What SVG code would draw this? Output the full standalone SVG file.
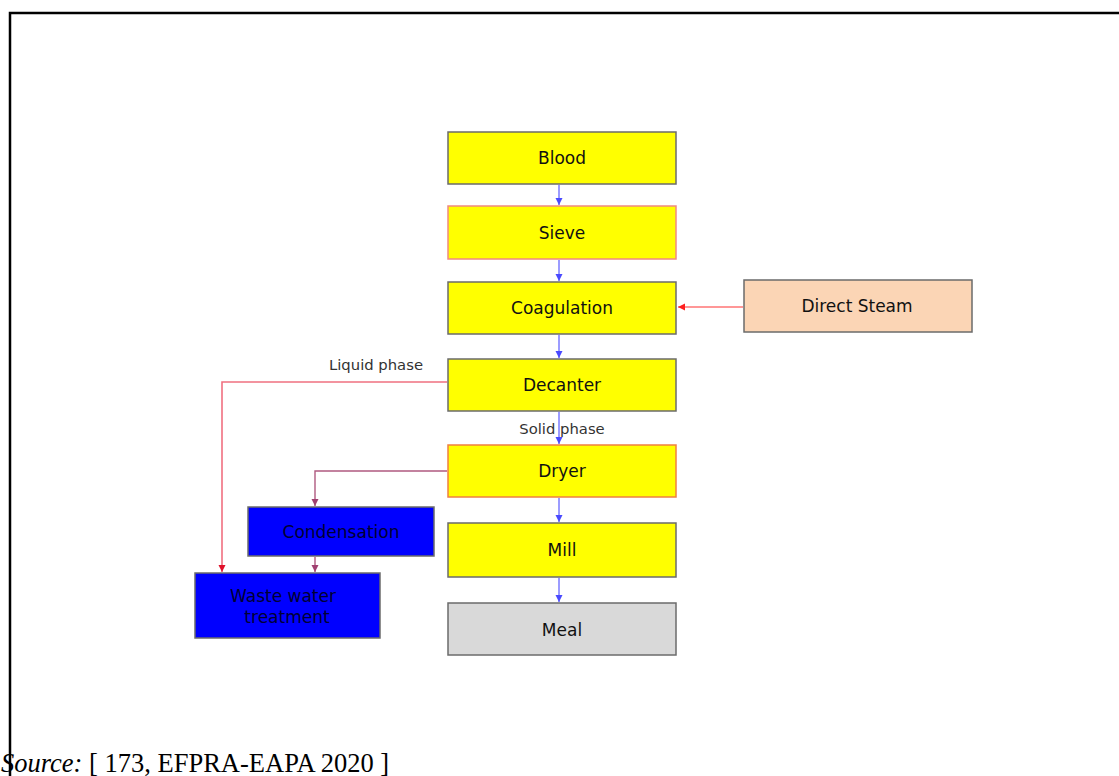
<svg xmlns="http://www.w3.org/2000/svg" width="1119" height="776" viewBox="0 0 1119 776">
<style>
.box{stroke:#6b6b6b;stroke-width:1.5}
.y{fill:#ffff00}
.b{fill:#0000ff}
.t{font-family:"DejaVu Sans",Verdana,sans-serif;font-size:17px;fill:#111;text-anchor:middle}
.tb{fill:#000033}
.lbl{font-family:"DejaVu Sans",Verdana,sans-serif;font-size:14.8px;fill:#333;text-anchor:middle}
.cb{stroke:#5a5aff;stroke-width:1.2;fill:none}
.cr{stroke:#f07080;stroke-width:1.6;fill:none}
.cm{stroke:#b05a80;stroke-width:1.4;fill:none}
.cs{stroke:#ff3030;stroke-width:1.2;fill:none}
</style>
<defs>
<marker id="ab" markerWidth="8" markerHeight="8" refX="7" refY="4" orient="auto" markerUnits="userSpaceOnUse"><path d="M0,0.5 L7,4 L0,7.5 z" fill="#4a4aff"/></marker>
<marker id="ar" markerWidth="8" markerHeight="8" refX="7" refY="4" orient="auto" markerUnits="userSpaceOnUse"><path d="M0,0.5 L7,4 L0,7.5 z" fill="#e0102a"/></marker>
<marker id="am" markerWidth="8" markerHeight="8" refX="7" refY="4" orient="auto" markerUnits="userSpaceOnUse"><path d="M0,0.5 L7,4 L0,7.5 z" fill="#a04070"/></marker>
<marker id="as" markerWidth="8" markerHeight="8" refX="7" refY="4" orient="auto" markerUnits="userSpaceOnUse"><path d="M0,0.5 L7,4 L0,7.5 z" fill="#ff2020"/></marker>
</defs>
<rect width="1119" height="776" fill="#fff"/>
<path d="M10,776 V13 H1119" stroke="#000" stroke-width="2.5" fill="none"/>
<g id="connectors">
<path class="cb" d="M559,185 V205" marker-end="url(#ab)"/>
<path class="cb" d="M559,260 V281" marker-end="url(#ab)"/>
<path class="cb" d="M559,335 V358" marker-end="url(#ab)"/>
<path class="cb" d="M559,412 V444" marker-end="url(#ab)"/>
<path class="cb" d="M559,498 V522" marker-end="url(#ab)"/>
<path class="cb" d="M559,578 V602" marker-end="url(#ab)"/>
<path class="cs" d="M743,307 H678" marker-end="url(#as)"/>
<path class="cr" d="M447,382 H222 V572" marker-end="url(#ar)"/>
<path class="cm" d="M447,471 H315 V506" marker-end="url(#am)"/>
<path class="cm" d="M315,557 V572" marker-end="url(#am)"/>
<text class="lbl" x="376" y="370">Liquid phase</text>
<text class="lbl" x="562" y="434">Solid phase</text>
</g>
<g id="blood"><rect class="box y" x="448" y="132" width="228" height="52"/><text class="t" x="562" y="164">Blood</text></g>
<g id="sieve"><rect class="y" x="448" y="206" width="228" height="53" stroke="#f08a80" stroke-width="1.5"/><text class="t" x="562" y="239">Sieve</text></g>
<g id="coagulation"><rect class="box y" x="448" y="282" width="228" height="52"/><text class="t" x="562" y="314">Coagulation</text></g>
<g id="direct-steam"><rect class="box" x="744" y="280" width="228" height="52" fill="#fbd5b5"/><text class="t" x="857" y="312" fill="#222">Direct Steam</text></g>
<g id="decanter"><rect class="box y" x="448" y="359" width="228" height="52"/><text class="t" x="562" y="391">Decanter</text></g>
<g id="dryer"><rect class="y" x="448" y="445" width="228" height="52" stroke="#f08040" stroke-width="1.5"/><text class="t" x="562" y="477">Dryer</text></g>
<g id="mill"><rect class="box y" x="448" y="523" width="228" height="54"/><text class="t" x="562" y="556">Mill</text></g>
<g id="meal"><rect class="box" x="448" y="603" width="228" height="52" fill="#d9d9d9"/><text class="t" x="562" y="636" fill="#333">Meal</text></g>
<g id="condensation"><rect class="box b" x="248" y="507" width="186" height="49"/><text class="t tb" x="341" y="538">Condensation</text></g>
<g id="waste-water"><rect class="box b" x="195" y="573" width="185" height="65"/><text class="t tb" x="283" y="602">Waste water</text><text class="t tb" x="287" y="623">treatment</text></g>
<text x="1" y="772" font-family="'Liberation Serif','Times New Roman',serif" font-size="26.5" fill="#000"><tspan font-style="italic">Source:</tspan> [ 173, EFPRA-EAPA 2020 ]</text>
</svg>
